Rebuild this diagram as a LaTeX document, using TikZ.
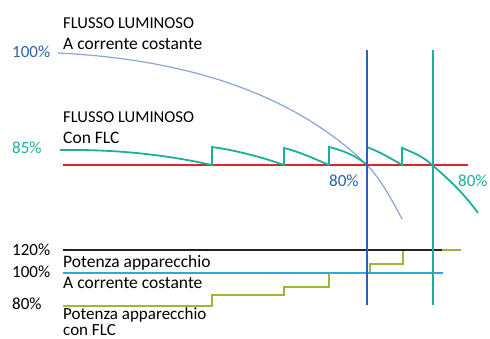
\documentclass[tikz,border=0pt]{standalone}
\usepackage{fontspec}
\setmainfont{Carlito}
\definecolor{dkblue}{HTML}{2A62AE}
\definecolor{ltblue}{HTML}{8AA5D6}
\definecolor{tealc}{HTML}{1BB09A}
\definecolor{redc}{HTML}{E8202A}
\definecolor{cyanc}{HTML}{2AA8E0}
\definecolor{greenc}{HTML}{9CB83A}
\definecolor{blackc}{HTML}{222222}
\tikzset{
  lbl/.style={anchor=base west, inner sep=0pt, font=\fontsize{17.5}{18}\selectfont},
  smalllbl/.style={anchor=base west, inner sep=0pt, font=\fontsize{17}{18}\selectfont},
  titlelbl/.style={anchor=base west, inner sep=0pt, font=\fontsize{16.6}{18}\selectfont},
  pct/.style={anchor=base west, inner sep=0pt, font=\fontsize{17}{18}\selectfont},
}
\begin{document}
\begin{tikzpicture}[x=1pt,y=-1pt]
\useasboundingbox (0,0) rectangle (490,338);
% texts
\node[titlelbl] (t1) at (63,28) {FLUSSO LUMINOSO};
\node[lbl] (t2) at (63,49) {A corrente costante};
\node[titlelbl] (t3) at (63,122) {FLUSSO LUMINOSO};
\node[lbl] (t4) at (63,143) {Con FLC};
\node[pct,text=dkblue] (p100) at (12,57) {100\%};
\node[pct,text=tealc] (p85) at (12,153) {85\%};
\node[pct,text=dkblue] (b80) at (329,186) {80\%};
\node[pct,text=tealc] (g80) at (458,186) {80\%};
\node[pct] (q120) at (12,255) {120\%};
\node[pct] (q100) at (12,277) {100\%};
\node[pct] (q80) at (12,309) {80\%};
\node[lbl] (b1) at (63,267) {Potenza apparecchio};
\node[lbl] (b2) at (63,288) {A corrente costante};
\node[smalllbl] (b3) at (63,319.5) {Potenza apparecchio};
\node[smalllbl] (b4) at (63,335) {con FLC};
% blue decay curve
\draw[ltblue,line width=1.2pt] (58,53) .. controls (200,60) and (300,100) .. (367,165)
  .. controls (380,178) and (392,200) .. (402,219);
% red line
\draw[redc,line width=1.5pt] (63,165) -- (468,165);
% teal FLC curve
\draw[tealc,line width=1.8pt,line join=miter]
  (60,150) .. controls (130,149) and (180,158) .. (212,165) -- (212,147)
  .. controls (235,150) and (265,158) .. (284,165) -- (284,148)
  .. controls (300,152) and (315,159) .. (329,165) -- (329,147)
  .. controls (345,151) and (358,157) .. (367,165) -- (367,147)
  .. controls (380,152) and (392,159) .. (402,165) -- (402,148)
  .. controls (415,153) and (425,158) .. (432,165)
  .. controls (450,180) and (465,195) .. (478,213);
% power steps
\draw[greenc,line width=1.8pt] (63,306) -- (212,306) -- (212,295) -- (284,295) -- (284,287) -- (329,287) -- (329,273) -- (370,273) -- (370,264) -- (403,264) -- (403,250) -- (461,250);
\draw[blackc,line width=1.6pt] (63,250) -- (442,250);
\draw[cyanc,line width=1.6pt] (63,273) -- (443,273);
% verticals
\draw[dkblue,line width=1.5pt] (367,50) -- (367,305);
\draw[tealc,line width=1.5pt] (433,50) -- (433,305);
\end{tikzpicture}
\end{document}
